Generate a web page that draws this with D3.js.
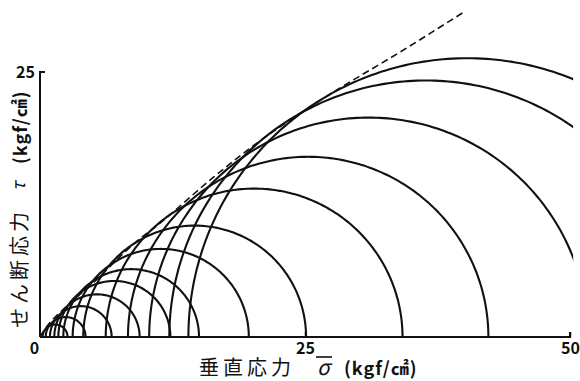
<!DOCTYPE html>
<html>
<head>
<meta charset="utf-8">
<script src="https://cdn.jsdelivr.net/npm/d3@7/dist/d3.min.js"></script>
<style>
  html, body { margin: 0; padding: 0; background: #fff; }
  svg { display: block; }
  text { font-family: "Noto Sans CJK JP", "Noto Sans", sans-serif; fill: #111; }
</style>
</head>
<body>
<script>
// Mohr stress circles: minor / major principal stress (kgf/cm2)
const sigma3 = [0.25, 0.54, 0.94, 1.35, 1.73, 2.2, 3.08, 4.08, 6.2, 8.3, 10.3, 12.2, 14.0];
const sigma1 = [2.6, 4.3, 6.76, 9.4, 12.3, 15.0, 19.7, 25.1, 34.2, 42.3, 51.7, 60.6, 66.6];

// Failure envelope (dashed), read as sigma / tau pairs
const envSigma = [0.0, 0.5, 2.2, 5.0, 9.1, 10.9, 16.4, 19.8, 22.6, 28.0, 34.0, 39.9];
const envTau   = [0.0, 0.8, 2.6, 5.1, 9.0, 10.4, 15.1, 17.8, 19.8, 23.3, 26.9, 30.6];

// Axis ticks
const xTicks = [0, 25, 50];
const yTicks = [25];

const W = 580, H = 381;
const svg = d3.select("body").append("svg").attr("width", W).attr("height", H);

const x = d3.scaleLinear().domain([0, 50]).range([40, 570]);
const y = d3.scaleLinear().domain([0, 25]).range([337, 72]);

// clip the large circles at the right end of the sigma axis
svg.append("clipPath").attr("id", "plotClip")
  .append("rect").attr("x", 0).attr("y", 0).attr("width", x(50.3)).attr("height", y(0) + 1);

const g = svg.append("g").attr("clip-path", "url(#plotClip)");

// semicircles
const circles = sigma3.map((s3, i) => ({ c: (s3 + sigma1[i]) / 2, r: (sigma1[i] - s3) / 2 }));
const arcLine = d3.line().x(d => x(d[0])).y(d => y(d[1]));
const angles = d3.range(0, 181, 1).map(a => a * Math.PI / 180);
g.selectAll("path.circle").data(circles).join("path")
  .attr("class", "circle")
  .attr("d", d => arcLine(angles.map(t => [d.c + d.r * Math.cos(t), d.r * Math.sin(t)])))
  .attr("fill", "none").attr("stroke", "#111").attr("stroke-width", 2.1);

// envelope
const env = envSigma.map((s, i) => [s, envTau[i]]);
svg.append("path")
  .attr("d", d3.line().x(d => x(d[0])).y(d => y(d[1])).curve(d3.curveMonotoneX)(env))
  .attr("fill", "none").attr("stroke", "#111").attr("stroke-width", 1.6)
  .attr("stroke-dasharray", "7,4");

// axes
const numFont = "'Liberation Sans Narrow', 'Noto Sans CJK JP', sans-serif";
const xAxis = d3.axisBottom(x).tickValues(xTicks).tickSize(-5).tickFormat(d3.format("d"));
const gx = svg.append("g").attr("transform", `translate(0,${y(0)})`).call(xAxis);
gx.select(".domain").attr("stroke", "#111").attr("stroke-width", 2).attr("d", `M${x(0)},0H${x(50)}V-5`);
gx.selectAll(".tick line").attr("stroke", "#111").attr("stroke-width", 1.5)
  .attr("display", d => d === 0 ? "none" : null);
gx.selectAll(".tick text")
  .attr("font-size", 16).attr("font-weight", "bold").attr("fill", "#111")
  .attr("font-family", numFont)
  .attr("dy", "0.75em")
  .attr("x", d => d === 0 ? -6 : 0)
  .attr("y", 5);

const yAxis = d3.axisLeft(y).tickValues(yTicks).tickSize(-5).tickFormat(d3.format("d"));
const gy = svg.append("g").attr("transform", `translate(${x(0)},0)`).call(yAxis);
gy.select(".domain").attr("stroke", "#111").attr("stroke-width", 2)
  .attr("d", `M5,${y(25)}H0V${y(0)}`);
gy.selectAll(".tick line").remove();
gy.selectAll(".tick text")
  .attr("font-size", 16).attr("font-weight", "bold").attr("fill", "#111")
  .attr("font-family", numFont)
  .attr("x", -5).attr("dy", "0.35em");

// x title
const xt = svg.append("g");
xt.append("text").attr("x", 199).attr("y", 375).attr("font-size", 20)
  .attr("letter-spacing", 4).text("垂直応力");
xt.append("text").attr("x", 317).attr("y", 375).attr("font-size", 21)
  .attr("font-style", "italic").attr("font-family", "'DejaVu Serif', serif").text("σ");
xt.append("line").attr("x1", 316).attr("x2", 332).attr("y1", 357).attr("y2", 357)
  .attr("stroke", "#111").attr("stroke-width", 1.6);
xt.append("text").attr("x", 344).attr("y", 375).attr("font-size", 18)
  .attr("font-weight", "bold").attr("letter-spacing", 1)
  .attr("font-family", "'Noto Sans CJK JP', sans-serif").text("(kgf/㎠)");

// y title
const yt = svg.append("g").attr("transform", "translate(27,328) rotate(-90)");
yt.append("text").attr("x", 0).attr("y", 0).attr("font-size", 20)
  .attr("letter-spacing", 4).text("せん断応力");
yt.append("text").attr("x", 137).attr("y", -2).attr("font-size", 18)
  .attr("font-style", "italic").attr("font-family", "'DejaVu Serif', serif").text("τ");
yt.append("text").attr("x", 164).attr("y", 0).attr("font-size", 18)
  .attr("font-weight", "bold").attr("letter-spacing", 1)
  .attr("font-family", "'Noto Sans CJK JP', sans-serif").text("(kgf/㎠)");
</script>
</body>
</html>
